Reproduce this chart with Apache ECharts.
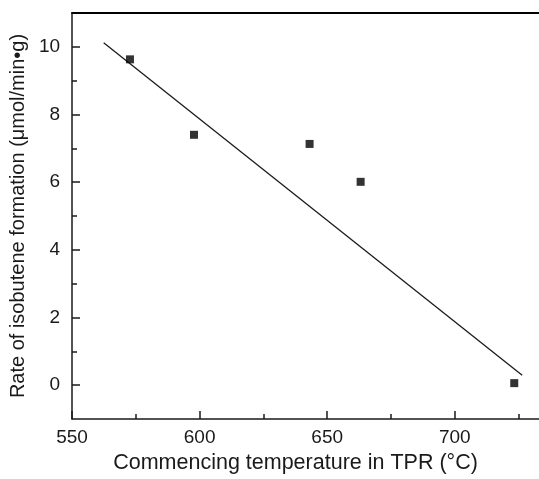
<!DOCTYPE html>
<html>
<head>
<meta charset="utf-8">
<script src="https://cdn.jsdelivr.net/npm/echarts@6/dist/echarts.min.js"></script>
<style>
html,body{margin:0;padding:0;background:#fff;}
#chart{width:539px;height:479px;}
</style>
</head>
<body>
<div id="chart"></div>
<script>
// Data
var temps = [572.7, 597.8, 643.1, 663.1, 723.3];
var rates = [9.63, 7.40, 7.13, 6.01, 0.06];
var fitX = [562.4, 726.4];
var fitY = [10.12, 0.29];
var xMajorTicks = [550, 600, 650, 700];
var xMinorTicks = [575, 625, 675, 725];
var yMajorTicks = [0, 2, 4, 6, 8, 10];
var yMinorTicks = [1, 3, 5, 7, 9];
var xTitle = 'Commencing temperature in TPR (°C)';
var yTitle = 'Rate of isobutene formation (μmol/min•g)';

var pts = temps.map(function (t, i) { return [t, rates[i]]; });
var fit = fitX.map(function (x, i) { return [x, fitY[i]]; });

var font = 'Liberation Sans, Arial, sans-serif';
var ink = '#1a1a1a';
var xMin = 550, xMax = 733, yMin = -1, yMax = 11;

var chart = echarts.init(document.getElementById('chart'), null, {renderer: 'canvas'});
chart.setOption({
  animation: false,
  backgroundColor: '#fff',
  grid: {left: 67, top: 13, right: 0, bottom: 54, containLabel: false},
  xAxis: [
    {
      type: 'value', min: xMin, max: xMax, position: 'bottom',
      name: xTitle, nameLocation: 'middle', nameGap: 33,
      nameTextStyle: {fontFamily: font, fontSize: 21.5, color: ink, padding: [0, 20, 0, 0]},
      axisLine: {show: true, onZero: false, lineStyle: {color: ink, width: 1.5}},
      axisTick: {show: true, inside: true, length: 8, customValues: xMajorTicks, lineStyle: {color: ink, width: 1.5}},
      axisLabel: {show: true, customValues: xMajorTicks, margin: 9, fontFamily: font, fontSize: 19, color: ink},
      splitLine: {show: false}
    },
    {
      type: 'value', min: xMin, max: xMax, position: 'bottom',
      axisLine: {show: false, onZero: false},
      axisTick: {show: true, inside: true, length: 5, customValues: xMinorTicks, lineStyle: {color: ink, width: 1.5}},
      axisLabel: {show: false},
      splitLine: {show: false}
    },
    {
      type: 'value', min: xMin, max: xMax, position: 'top',
      axisLine: {show: true, onZero: false, lineStyle: {color: '#000', width: 2}},
      axisTick: {show: false}, axisLabel: {show: false}, splitLine: {show: false}
    }
  ],
  yAxis: [
    {
      type: 'value', min: yMin, max: yMax, position: 'left',
      name: yTitle, nameLocation: 'middle', nameGap: 34, nameRotate: 90,
      nameTextStyle: {fontFamily: font, fontSize: 20, color: ink},
      axisLine: {show: true, onZero: false, lineStyle: {color: ink, width: 1.5}},
      axisTick: {show: true, inside: true, length: 8, customValues: yMajorTicks, lineStyle: {color: ink, width: 1.5}},
      axisLabel: {show: true, customValues: yMajorTicks, margin: 12, fontFamily: font, fontSize: 19, color: ink},
      splitLine: {show: false}
    },
    {
      type: 'value', min: yMin, max: yMax, position: 'left',
      axisLine: {show: false, onZero: false},
      axisTick: {show: true, inside: true, length: 5, customValues: yMinorTicks, lineStyle: {color: ink, width: 1.5}},
      axisLabel: {show: false},
      splitLine: {show: false}
    }
  ],
  series: [
    {
      type: 'line', data: fit, xAxisIndex: 0, yAxisIndex: 0,
      showSymbol: false, symbol: 'none',
      lineStyle: {color: ink, width: 1.3}, z: 2
    },
    {
      type: 'scatter', data: pts, xAxisIndex: 0, yAxisIndex: 0,
      symbol: 'rect', symbolSize: 8,
      itemStyle: {color: '#000'}, z: 3
    }
  ]
});
</script>
</body>
</html>
